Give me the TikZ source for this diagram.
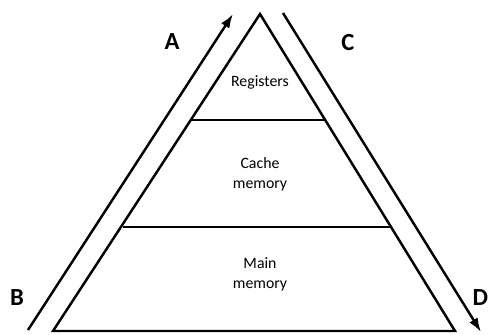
\documentclass[tikz,border=0pt]{standalone}
\usepackage{fontspec}
\setmainfont{Carlito}
\usetikzlibrary{arrows.meta}

\begin{document}
\begin{tikzpicture}[x=0.02cm, y=-0.02cm, line width=1.4pt,
    level/.style={font=\fontsize{9}{11.3}\selectfont, align=center},
    side/.style={font=\fontsize{14}{16}\selectfont\bfseries},
    flow/.style={-{Latex[length=8pt,width=5.5pt]}}]

    \useasboundingbox (0,0) rectangle (491,335);

    % pyramid
    \coordinate (top) at (260,14);
    \coordinate (bl) at (53,331);
    \coordinate (br) at (455,331);
    \draw (bl) -- (top) -- (br) -- cycle;

    \coordinate (r1l) at (192,120);
    \coordinate (r1r) at (326,120);
    \coordinate (r2l) at (123,227);
    \coordinate (r2r) at (391,227);
    \draw (r1l) -- (r1r);
    \draw (r2l) -- (r2r);

    \node[level] (reg) at (260,82) {Registers};
    \node[level] (cache) at (260,174) {Cache\\memory};
    \node[level] (main) at (260,274) {Main\\memory};

    % arrows
    \coordinate (a0) at (28,330);
    \coordinate (a1) at (233,14);
    \coordinate (c0) at (283,13);
    \coordinate (c1) at (481,332);
    \draw[flow] (a0) -- (a1);
    \draw[flow] (c0) -- (c1);

    \node[side] (A) at (172,42) {A};
    \node[side] (C) at (348,43) {C};
    \node[side] (B) at (17,298) {B};
    \node[side, anchor=east, inner sep=1pt] (D) at (491,298) {D};

\end{tikzpicture}
\end{document}
